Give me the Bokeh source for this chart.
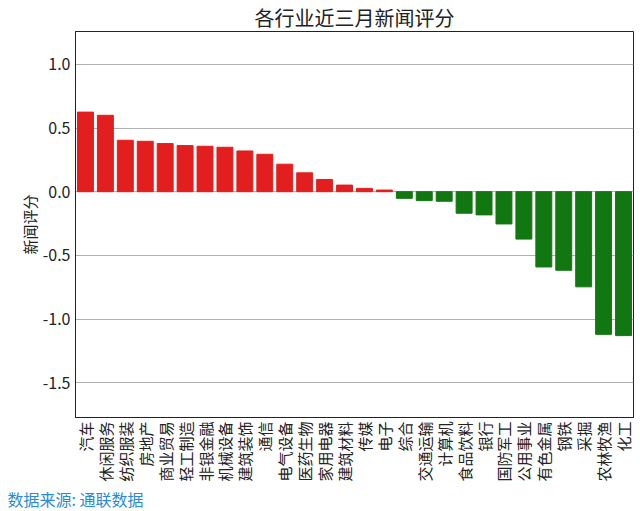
from bokeh.plotting import figure
from bokeh.models import ColumnDataSource, FixedTicker, NumeralTickFormatter, Title, Range1d, FactorRange
from bokeh.embed import file_html
from bokeh.resources import INLINE
import math

industries = ["汽车", "休闲服务", "纺织服装", "房地产", "商业贸易", "轻工制造", "非银金融", "机械设备",
              "建筑装饰", "通信", "电气设备", "医药生物", "家用电器", "建筑材料", "传媒", "电子", "综合",
              "交通运输", "计算机", "食品饮料", "银行", "国防军工", "公用事业", "有色金属", "钢铁", "采掘",
              "农林牧渔", "化工"]
scores = [0.625, 0.60, 0.404, 0.396, 0.378, 0.362, 0.357, 0.349, 0.32, 0.294, 0.216, 0.148, 0.096,
          0.052, 0.026, 0.013, -0.052, -0.07, -0.075, -0.169, -0.182, -0.253, -0.372, -0.591, -0.617,
          -0.747, -1.12, -1.13]
y_ticks = [-1.5, -1.0, -0.5, 0.0, 0.5, 1.0]

FONT = "Noto Sans CJK SC"
colors = ["#e31e1e" if s >= 0 else "#117711" for s in scores]
src = ColumnDataSource(dict(x=industries, top=scores, color=colors))

p = figure(x_range=FactorRange(*industries, range_padding=0), y_range=Range1d(-1.773, 1.258),
           width=640, height=511, output_backend="svg", toolbar_location=None,
           min_border_left=75, min_border_right=7, min_border_top=29, min_border_bottom=94)
p.vbar(x="x", top="top", bottom=0, width=0.8, color="color", source=src)

p.title.text = "各行业近三月新闻评分"
p.title.text_font = FONT
p.title.text_font_size = "20px"
p.title.text_font_style = "normal"
p.title.align = "center"
p.title.text_color = "#222222"
p.title.standoff = 0

p.outline_line_color = "#222222"
p.outline_line_width = 1
p.xgrid.grid_line_color = None
p.ygrid.grid_line_color = "#b0b0b0"
p.ygrid.grid_line_width = 1

p.yaxis.ticker = FixedTicker(ticks=y_ticks)
p.yaxis.formatter = NumeralTickFormatter(format="0.0")
p.yaxis.major_label_text_font = FONT
p.yaxis.major_label_text_font_size = "16px"
p.yaxis.major_label_text_color = "#222222"
p.yaxis.major_tick_out = 0
p.yaxis.major_tick_in = 0
p.yaxis.minor_tick_out = 0
p.yaxis.minor_tick_in = 0
p.yaxis.major_label_standoff = 5
p.yaxis.axis_line_color = "#222222"
p.yaxis.axis_label = "新闻评分"
p.yaxis.axis_label_text_font = FONT
p.yaxis.axis_label_text_font_size = "15px"
p.yaxis.axis_label_text_font_style = "normal"
p.yaxis.axis_label_text_color = "#222222"
p.yaxis.axis_label_standoff = 0

p.xaxis.major_label_orientation = math.pi / 2
p.xaxis.major_label_text_font = FONT
p.xaxis.major_label_text_font_size = "15px"
p.xaxis.major_label_text_color = "#222222"
p.xaxis.major_tick_out = 0
p.xaxis.major_tick_in = 0
p.xaxis.major_label_standoff = 4
p.xaxis.axis_line_color = "#222222"

p.add_layout(Title(text="数据来源: 通联数据", align="left", offset=-68, standoff=0,
                   text_font=FONT, text_font_size="16px", text_font_style="normal",
                   text_color="#2a8ad8"), "below")

open("out.html", "w").write(file_html(p, INLINE))
